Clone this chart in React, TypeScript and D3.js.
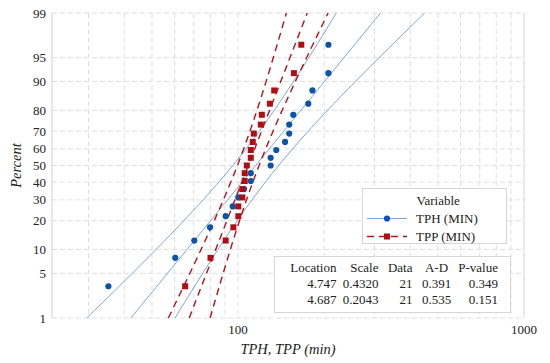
import React, { useEffect, useRef } from 'react';
import * as d3 from 'd3';

// Lognormal probability plot: TPH vs TPP (minutes), n = 21 each
const TPH = [35.2, 60.3, 70.3, 79.8, 90.5, 95.8, 100.2, 105, 110.8, 110.8, 130, 130, 136, 146, 151, 151, 156, 176, 182, 207, 207];
const TPP = [65.3, 80.1, 90.5, 96.3, 100.2, 100.2, 103.5, 103.5, 105.5, 105.5, 107.3, 110.8, 110.8, 112.6, 113.5, 120.1, 121.1, 129.2, 133.8, 156.8, 166.4];

const SERIES = ['TPH (MIN)', 'TPP (MIN)'];
const LOCATION = [4.747, 4.687];
const SCALE = [0.4320, 0.2043];
const N_DATA = [21, 21];
const AD = ['0.391', '0.535'];
const PVAL = ['0.349', '0.151'];

const Y_TICKS = [1, 5, 10, 20, 30, 40, 50, 60, 70, 80, 90, 95, 99];
const X_GRID = [30, 40, 50, 60, 70, 80, 90, 100, 200, 300, 400, 500, 600, 700, 800, 900, 1000];
const X_LABELS = [100, 1000];

const LINE_COLORS = ['#7aa6dc', '#b5121b'];
const MARK_COLORS = ['#0b55a8', '#b20d12'];
const FONT = "'Times New Roman', Times, 'Liberation Serif', 'DejaVu Serif', serif";

// inverse standard normal CDF (Acklam)
function qnorm(p: number): number {
  const a = [-3.969683028665376e1, 2.209460984245205e2, -2.759285104469687e2, 1.38357751867269e2, -3.066479806614716e1, 2.506628277459239];
  const b = [-5.447609879822406e1, 1.615858368580409e2, -1.556989798598866e2, 6.680131188771972e1, -1.328068155288572e1];
  const c = [-7.784894002430293e-3, -3.223964580411365e-1, -2.400758277161838, -2.549732539343734, 4.374664141464968, 2.938163982698783];
  const d = [7.784695709041462e-3, 3.224671290700398e-1, 2.445134137142996, 3.754408661907416];
  const pl = 0.02425;
  if (p < pl) {
    const q = Math.sqrt(-2 * Math.log(p));
    return (((((c[0] * q + c[1]) * q + c[2]) * q + c[3]) * q + c[4]) * q + c[5]) / ((((d[0] * q + d[1]) * q + d[2]) * q + d[3]) * q + 1);
  }
  if (p > 1 - pl) {
    const q = Math.sqrt(-2 * Math.log(1 - p));
    return -(((((c[0] * q + c[1]) * q + c[2]) * q + c[3]) * q + c[4]) * q + c[5]) / ((((d[0] * q + d[1]) * q + d[2]) * q + d[3]) * q + 1);
  }
  const q = p - 0.5;
  const r = q * q;
  return (((((a[0] * r + a[1]) * r + a[2]) * r + a[3]) * r + a[4]) * r + a[5]) * q / (((((b[0] * r + b[1]) * r + b[2]) * r + b[3]) * r + b[4]) * r + 1);
}

export default function App() {
  const svgRef = useRef<SVGSVGElement>(null);

  useEffect(() => {
    const width = 550;
    const height = 363;
    const margin = { top: 13, right: 26, bottom: 45, left: 52 };
    const innerW = width - margin.left - margin.right;
    const innerH = height - margin.top - margin.bottom;

    const svg = d3.select(svgRef.current);
    svg.selectAll('*').remove();
    svg.attr('width', width).attr('height', height);

    const txt = (sel: any, size: number) =>
      sel.append('text').attr('font-family', FONT).attr('font-size', size).attr('fill', '#222');

    const x = d3.scaleLog().domain([22.35, 1000]).range([margin.left, margin.left + innerW]);
    const y = d3.scaleLinear().domain([qnorm(0.01), qnorm(0.99)]).range([margin.top + innerH, margin.top]);

    svg.append('rect').attr('width', width).attr('height', height).attr('fill', 'white');

    // grid
    const grid = svg.append('g').attr('stroke', '#dedede').attr('stroke-width', 1).attr('stroke-dasharray', '5,3');
    X_GRID.forEach(v => {
      grid.append('line').attr('x1', x(v)).attr('x2', x(v)).attr('y1', margin.top).attr('y2', margin.top + innerH);
    });
    Y_TICKS.forEach(v => {
      grid.append('line').attr('x1', margin.left).attr('x2', margin.left + innerW)
        .attr('y1', y(qnorm(v / 100))).attr('y2', y(qnorm(v / 100)));
    });
    svg.append('line').attr('x1', margin.left).attr('x2', margin.left).attr('y1', margin.top).attr('y2', margin.top + innerH)
      .attr('stroke', '#cfcfcf');
    svg.append('line').attr('x1', margin.left + innerW).attr('x2', margin.left + innerW).attr('y1', margin.top).attr('y2', margin.top + innerH)
      .attr('stroke', '#dcdcdc');

    // tick labels
    Y_TICKS.forEach(v => {
      txt(svg, 13).attr('x', margin.left - 6).attr('y', y(qnorm(v / 100)) + 4.5)
        .attr('text-anchor', 'end').text(v);
    });
    X_LABELS.forEach(v => {
      txt(svg, 13).attr('x', x(v)).attr('y', margin.top + innerH + 16)
        .attr('text-anchor', 'middle').text(v);
    });

    txt(svg, 14.5).attr('x', margin.left + innerW / 2).attr('y', 354)
      .attr('text-anchor', 'middle').attr('font-style', 'italic')
      .text('TPH, TPP (min)');
    txt(svg, 14.5).attr('transform', `translate(21,${margin.top + innerH / 2}) rotate(-90)`)
      .attr('text-anchor', 'middle').attr('font-style', 'italic')
      .text('Percent');

    // clip
    svg.append('clipPath').attr('id', 'plot-clip').append('rect')
      .attr('x', margin.left).attr('y', margin.top).attr('width', innerW).attr('height', innerH);
    const plot = svg.append('g').attr('clip-path', 'url(#plot-clip)');

    // fitted lines with 95% CI
    const zs = d3.range(0, 81).map(k => y.domain()[0] + (y.domain()[1] - y.domain()[0]) * k / 80);
    SERIES.forEach((s, j) => {
      const mu = LOCATION[j];
      const sg = SCALE[j];
      const n = N_DATA[j];
      [-1, 0, 1].forEach(side => {
        const line = d3.line<number>()
          .x(z => x(Math.exp(mu + sg * z + side * 1.96 * sg / Math.sqrt(n) * Math.sqrt(1 + z * z / 2))))
          .y(z => y(z));
        plot.append('path').datum(zs).attr('d', line)
          .attr('fill', 'none').attr('stroke', LINE_COLORS[j])
          .attr('stroke-width', j === 0 ? 1 : 1.4)
          .attr('stroke-dasharray', j === 0 ? null : '7,5');
      });
    });

    // points (median ranks)
    const rank = (i: number, n: number) => (i + 1 - 0.3) / (n + 0.4);
    TPH.forEach((v, i) => {
      plot.append('circle').attr('cx', x(v)).attr('cy', y(qnorm(rank(i, TPH.length))))
        .attr('r', 3.1).attr('fill', MARK_COLORS[0]);
    });
    TPP.forEach((v, i) => {
      plot.append('rect').attr('x', x(v) - 3).attr('y', y(qnorm(rank(i, TPP.length))) - 3)
        .attr('width', 6).attr('height', 6).attr('fill', MARK_COLORS[1]);
    });

    // legend
    const lg = svg.append('g');
    lg.append('rect').attr('x', 362.5).attr('y', 188.5).attr('width', 144).attr('height', 55)
      .attr('fill', 'white').attr('stroke', '#d6d6d6');
    txt(lg, 13).attr('x', 416.5).attr('y', 205).text('Variable');
    SERIES.forEach((s, j) => {
      const ly = 218.5 + j * 18;
      lg.append('line').attr('x1', 367).attr('x2', 407).attr('y1', ly).attr('y2', ly)
        .attr('stroke', LINE_COLORS[j]).attr('stroke-width', j === 0 ? 1 : 1.4)
        .attr('stroke-dasharray', j === 0 ? null : '7,5');
      if (j === 0) lg.append('circle').attr('cx', 387).attr('cy', ly).attr('r', 3.1).attr('fill', MARK_COLORS[0]);
      else lg.append('rect').attr('x', 384).attr('y', ly - 3).attr('width', 6).attr('height', 6).attr('fill', MARK_COLORS[1]);
      txt(lg, 13).attr('x', 416).attr('y', ly + 4.5).text(s);
    });

    // stats table
    const tb = svg.append('g');
    tb.append('rect').attr('x', 274.5).attr('y', 256.5).attr('width', 236).attr('height', 56)
      .attr('fill', 'white').attr('stroke', '#d6d6d6');
    const cols = [
      { head: 'Location', x: 336.5, anchor: 'end', vals: LOCATION.map(v => v.toFixed(3)) },
      { head: 'Scale', x: 378.5, anchor: 'end', vals: SCALE.map(v => v.toFixed(4)) },
      { head: 'Data', x: 412.5, anchor: 'end', vals: N_DATA.map(String) },
      { head: 'A-D', x: 436.5, anchor: 'middle', vals: AD },
      { head: 'P-value', x: 498, anchor: 'end', vals: PVAL },
    ];
    cols.forEach(c => {
      txt(tb, 13).attr('x', c.x).attr('y', 272).attr('text-anchor', c.anchor).text(c.head);
      c.vals.forEach((v, k) => {
        txt(tb, 13).attr('x', c.x).attr('y', 287.5 + k * 16).attr('text-anchor', c.anchor).text(v);
      });
    });
  }, []);

  return <svg ref={svgRef} style={{ position: 'absolute', left: 0, top: 0 }} />;
}
